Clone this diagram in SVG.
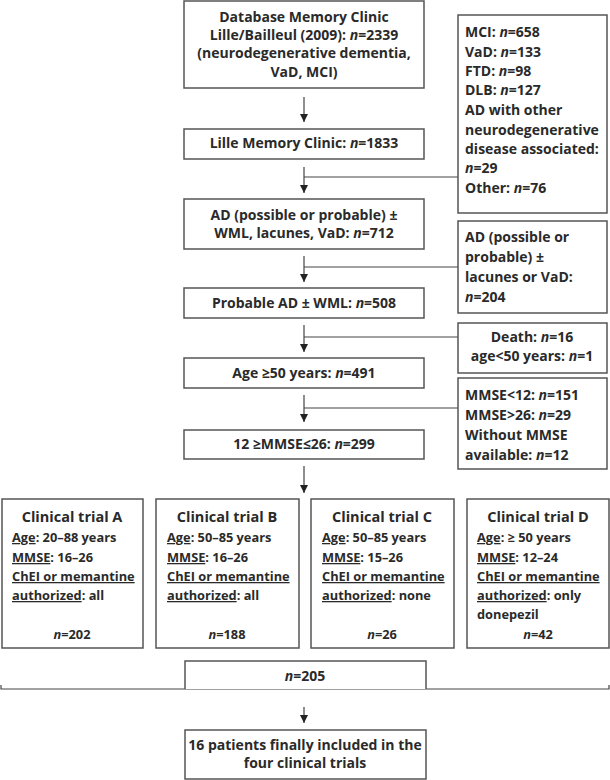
<svg xmlns="http://www.w3.org/2000/svg" width="610" height="780" viewBox="0 0 610 780">
<defs>
<style>
text{font-family:"Open Sans",Lato,"Liberation Sans",sans-serif;font-weight:bold;font-size:14px;fill:#2a2a2a}
.c{text-anchor:middle}
.t{font-size:14.5px}
.s{font-size:12.8px}
.box{fill:#fff;stroke:#555;stroke-width:1.5}
.ln{fill:none;stroke:#444;stroke-width:1.2}
.u{text-decoration:underline}
</style>
<marker id="ah" viewBox="0 0 8 10" refX="8" refY="5" markerWidth="8" markerHeight="10" markerUnits="userSpaceOnUse" orient="auto">
<path d="M0,1 L8,5 L0,9 Z" fill="#222"/>
</marker>
</defs>
<rect width="610" height="780" fill="#fff"/>

<g id="connectors">
<line class="ln" x1="304" y1="97" x2="304" y2="122" marker-end="url(#ah)"/>
<line class="ln" x1="304" y1="167" x2="304" y2="193" marker-end="url(#ah)"/>
<line class="ln" x1="304" y1="177" x2="458" y2="177"/>
<line class="ln" x1="304" y1="256" x2="304" y2="282" marker-end="url(#ah)"/>
<line class="ln" x1="304" y1="267" x2="458" y2="267"/>
<line class="ln" x1="304" y1="325" x2="304" y2="352" marker-end="url(#ah)"/>
<line class="ln" x1="304" y1="337" x2="458" y2="337"/>
<line class="ln" x1="304" y1="395" x2="304" y2="422" marker-end="url(#ah)"/>
<line class="ln" x1="304" y1="408" x2="458" y2="408"/>
<line class="ln" x1="304" y1="466" x2="304" y2="493" marker-end="url(#ah)"/>
<polyline class="ln" points="1,685 1,689 609,689 609,685"/>
<line class="ln" x1="304" y1="707" x2="304" y2="723" marker-end="url(#ah)"/>
</g>

<g id="n1">
<rect class="box" x="184" y="1" width="240" height="87"/>
<text class="c" x="304" y="22">Database Memory Clinic</text>
<text class="c" x="304" y="40">Lille/Bailleul (2009): <tspan font-style="italic">n</tspan>=2339</text>
<text class="c" x="304" y="58">(neurodegenerative dementia,</text>
<text class="c" x="304" y="77">VaD, MCI)</text>
</g>

<g id="x1">
<rect class="box" x="458" y="15" width="149" height="198"/>
<text x="465" y="37">MCI: <tspan font-style="italic">n</tspan>=658</text>
<text x="465" y="57">VaD: <tspan font-style="italic">n</tspan>=133</text>
<text x="465" y="76">FTD: <tspan font-style="italic">n</tspan>=98</text>
<text x="465" y="95">DLB: <tspan font-style="italic">n</tspan>=127</text>
<text x="465" y="115">AD with other</text>
<text x="465" y="135">neurodegenerative</text>
<text x="465" y="154">disease associated:</text>
<text x="465" y="173"><tspan font-style="italic">n</tspan>=29</text>
<text x="465" y="193">Other: <tspan font-style="italic">n</tspan>=76</text>
</g>

<g id="n2">
<rect class="box" x="184" y="129" width="240" height="30"/>
<text class="c" x="304" y="148">Lille Memory Clinic: <tspan font-style="italic">n</tspan>=1833</text>
</g>

<g id="n3">
<rect class="box" x="184" y="199" width="240" height="50"/>
<text class="c" x="304" y="220">AD (possible or probable) ±</text>
<text class="c" x="304" y="238">WML, lacunes, VaD: <tspan font-style="italic">n</tspan>=712</text>
</g>

<g id="x2">
<rect class="box" x="458" y="221" width="149" height="92"/>
<text x="465" y="242">AD (possible or</text>
<text x="465" y="262">probable) ±</text>
<text x="465" y="282">lacunes or VaD:</text>
<text x="465" y="302"><tspan font-style="italic">n</tspan>=204</text>
</g>

<g id="n4">
<rect class="box" x="184" y="288" width="240" height="30"/>
<text class="c" x="304" y="308">Probable AD ± WML: <tspan font-style="italic">n</tspan>=508</text>
</g>

<g id="x3">
<rect class="box" x="458" y="323" width="149" height="50"/>
<text class="c" x="532" y="342">Death: <tspan font-style="italic">n</tspan>=16</text>
<text class="c" x="532" y="361">age&lt;50 years: <tspan font-style="italic">n</tspan>=1</text>
</g>

<g id="n5">
<rect class="box" x="184" y="358" width="240" height="30"/>
<text class="c" x="304" y="378">Age ≥50 years: <tspan font-style="italic">n</tspan>=491</text>
</g>

<g id="x4">
<rect class="box" x="458" y="378" width="149" height="91"/>
<text x="465" y="400">MMSE&lt;12: <tspan font-style="italic">n</tspan>=151</text>
<text x="465" y="420">MMSE&gt;26: <tspan font-style="italic">n</tspan>=29</text>
<text x="465" y="440">Without MMSE</text>
<text x="465" y="460">available:  <tspan font-style="italic">n</tspan>=12</text>
</g>

<g id="n6">
<rect class="box" x="184" y="430" width="240" height="29"/>
<text class="c" x="304" y="449">12 ≥MMSE≤26: <tspan font-style="italic">n</tspan>=299</text>
</g>

<g id="tA">
<rect class="box" x="2" y="499" width="141" height="149"/>
<text class="c t" x="72" y="522">Clinical trial A</text>
<text class="s" x="12" y="542"><tspan class="u">Age</tspan>: 20–88 years</text>
<text class="s" x="12" y="562"><tspan class="u">MMSE</tspan>: 16–26</text>
<text class="s" x="12" y="581"><tspan class="u">ChEI or memantine</tspan></text>
<text class="s" x="12" y="600"><tspan class="u">authorized</tspan>: all</text>
<text class="c s" x="72" y="639"><tspan font-style="italic">n</tspan>=202</text>
</g>

<g id="tB">
<rect class="box" x="156" y="499" width="143" height="149"/>
<text class="c t" x="227" y="522">Clinical trial B</text>
<text class="s" x="167" y="542"><tspan class="u">Age</tspan>: 50–85 years</text>
<text class="s" x="167" y="562"><tspan class="u">MMSE</tspan>: 16–26</text>
<text class="s" x="167" y="581"><tspan class="u">ChEI or memantine</tspan></text>
<text class="s" x="167" y="600"><tspan class="u">authorized</tspan>: all</text>
<text class="c s" x="227" y="639"><tspan font-style="italic">n</tspan>=188</text>
</g>

<g id="tC">
<rect class="box" x="311" y="499" width="143" height="149"/>
<text class="c t" x="382" y="522">Clinical trial C</text>
<text class="s" x="322" y="542"><tspan class="u">Age</tspan>: 50–85 years</text>
<text class="s" x="322" y="562"><tspan class="u">MMSE</tspan>: 15–26</text>
<text class="s" x="322" y="581"><tspan class="u">ChEI or memantine</tspan></text>
<text class="s" x="322" y="600"><tspan class="u">authorized</tspan>: none</text>
<text class="c s" x="382" y="639"><tspan font-style="italic">n</tspan>=26</text>
</g>

<g id="tD">
<rect class="box" x="467" y="499" width="142" height="149"/>
<text class="c t" x="538" y="522">Clinical trial D</text>
<text class="s" x="477" y="542"><tspan class="u">Age</tspan>: ≥ 50 years</text>
<text class="s" x="477" y="562"><tspan class="u">MMSE</tspan>: 12–24</text>
<text class="s" x="477" y="581"><tspan class="u">ChEI or memantine</tspan></text>
<text class="s" x="477" y="600"><tspan class="u">authorized</tspan>: only</text>
<text class="s" x="477" y="619">donepezil</text>
<text class="c s" x="538" y="639"><tspan font-style="italic">n</tspan>=42</text>
</g>

<g id="n7">
<polyline class="box" points="185,689 185,661 426,661 426,689"/>
<text class="c" x="305" y="681"><tspan font-style="italic">n</tspan>=205</text>
</g>

<g id="n8">
<rect class="box" x="185" y="730" width="241" height="49"/>
<text class="c" x="305" y="750">16 patients finally included in the</text>
<text class="c" x="305" y="768">four clinical trials</text>
</g>
</svg>
